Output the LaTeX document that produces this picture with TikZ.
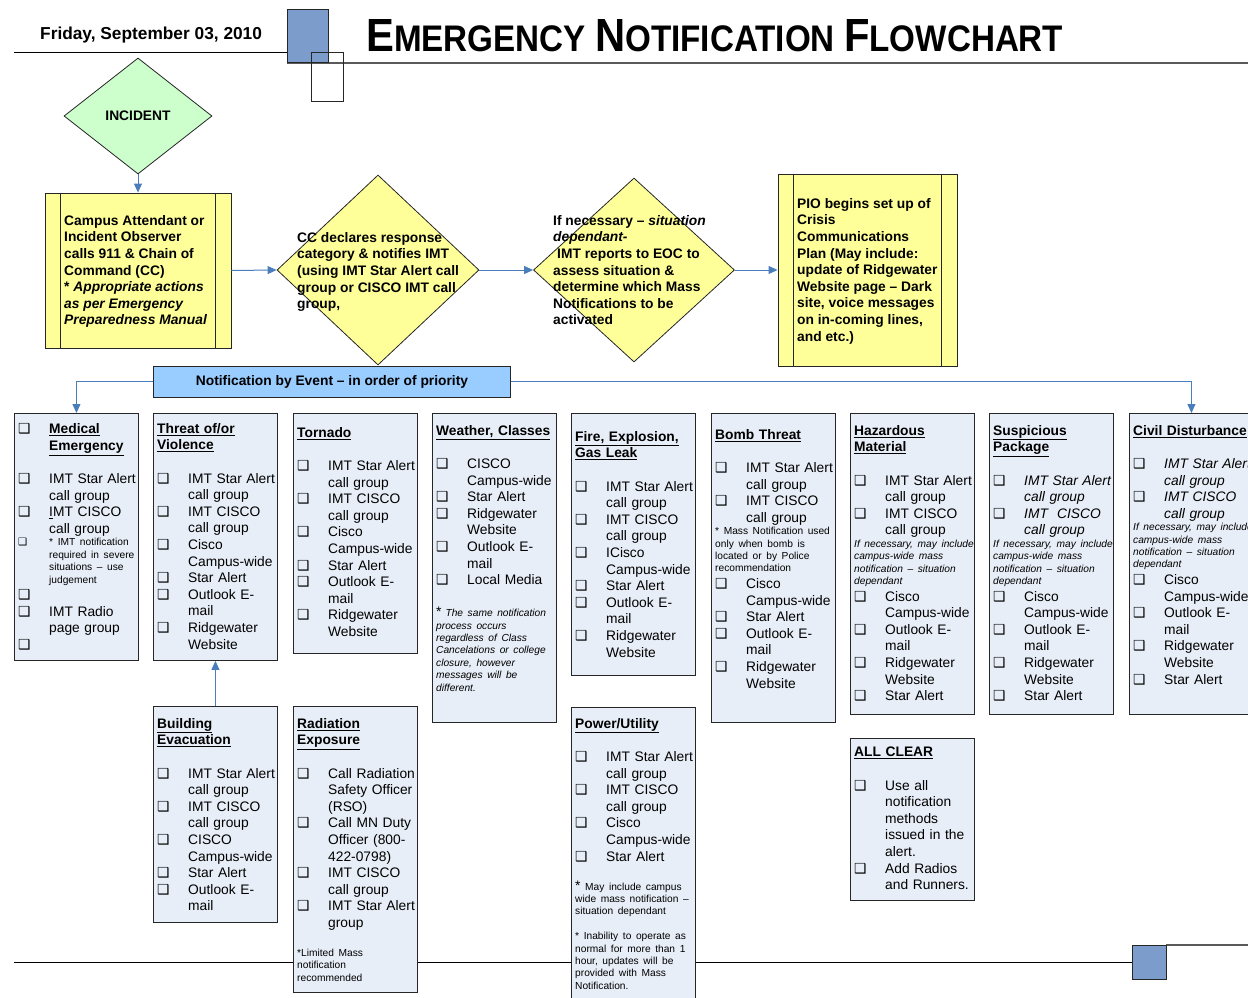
\documentclass[tikz,border=0pt]{standalone}
\usepackage{fontspec}
\usepackage{graphicx}
\setmainfont{Liberation Sans}
\newfontfamily\symfont{DejaVu Sans}
\usetikzlibrary{shapes.geometric,arrows.meta}

\definecolor{noteyellow}{HTML}{FFFF99}
\definecolor{incgreen}{HTML}{CCFFCC}
\definecolor{barblue}{HTML}{99CCFF}
\definecolor{evfill}{HTML}{E8EEF7}
\definecolor{linkblue}{HTML}{4A7EBB}
\definecolor{sqblue}{HTML}{7C9CCC}
\definecolor{rulegrey}{HTML}{5A5A5A}

\setlength\parindent{0pt}
\setlength\parskip{0pt}

% text sizes used in the event boxes
\newcommand\nm{\fontsize{13.8}{16.6}\selectfont}
\newcommand\sm{\fontsize{10.2}{12.4}\selectfont}
\newcommand\hd[1]{\underline{\textbf{#1}}}
\newcommand\cbx{\smash{\symfont ❑}}
% a check-box item; its further lines hang under the first one
\newcommand\itm[1]{\par\begingroup\let\\\newline
  \hangindent=31pt\hangafter=1\noindent\makebox[31pt][l]{\cbx}#1\par\endgroup}
\newcommand\blankline{\par\noindent\mbox{}\par}

\tikzset{
  evbox/.style={draw=black!85, line width=0.9pt, fill=evfill, rectangle,
    inner sep=0pt, anchor=north west},
  evtext/.style={anchor=north west, inner sep=0pt, text width=150pt,
    align=left, font=\nm},
  stepnote/.style={draw=black!85, line width=0.9pt, fill=noteyellow,
    rectangle, inner sep=0pt},
  decide/.style={draw=black!85, line width=0.8pt, fill=noteyellow,
    diamond, inner sep=0pt},
  steptext/.style={anchor=north west, inner sep=0pt, align=left,
    font=\nm\bfseries},
  link/.style={draw=linkblue, line width=1pt,
    -{Triangle[length=9pt,width=8pt]}},
}

% event box: name, x, y, width, height, text offset, contents
\newcommand\evbox[7]{%
  \node[evbox, minimum width=#4pt, minimum height=#5pt] (#1) at (#2,#3) {};
  \node[evtext] (#1-txt) at ([xshift=4pt,yshift=-#6pt]#1.north west) {#7};}

\begin{document}
\begin{tikzpicture}[x=1pt,y=-1pt]
\useasboundingbox (0,0) rectangle (1248,998);
\clip (0,0) rectangle (1248,998);
\fill[white] (0,0) rectangle (1248,998);

% ---- header ----
\draw[black, line width=1pt] (14,53) -- (287,53);
\draw[rulegrey, line width=1.6pt] (287,63) -- (1248,63);
\draw[black!85, line width=1pt, fill=sqblue] (287,10) rectangle (328,63);
\draw[black!85, line width=1pt] (311,53) rectangle (343,101);
\node[anchor=base west, inner sep=0pt, font=\bfseries\fontsize{17.3}{19}\selectfont]
  (date) at (40,40) {Friday, September 03, 2010};
\node[anchor=base west, inner sep=0pt] (title) at (366,52)
  {\resizebox{697pt}{32pt}{\bfseries
   \fontsize{44}{44}\selectfont E\fontsize{35}{35}\selectfont MERGENCY
   \fontsize{44}{44}\selectfont N\fontsize{35}{35}\selectfont OTIFICATION
   \fontsize{44}{44}\selectfont F\fontsize{35}{35}\selectfont LOWCHART}};

% ---- footer ----
\draw[black, line width=1pt] (14,962) -- (1132,962);
\draw[rulegrey, line width=1.6pt] (1166,945) -- (1248,945);
\draw[black!85, line width=1pt, fill=sqblue] (1132,945) rectangle (1166,979);

% ---- upper flow ----
\node[decide, fill=incgreen, minimum width=148pt, minimum height=116pt,
  font=\nm\bfseries] (inc) at (138,116) {INCIDENT};

\node[stepnote, minimum width=186pt, minimum height=155pt] (campus) at (138,270.5) {};
\draw[black!85, line width=0.9pt] ([xshift=16pt]campus.north west) -- ([xshift=16pt]campus.south west);
\draw[black!85, line width=0.9pt] ([xshift=-16pt]campus.north east) -- ([xshift=-16pt]campus.south east);
\node[steptext] (campus-txt) at (64,215) {Campus Attendant or\\Incident Observer\\calls 911 \& Chain of\\Command (CC)\\* \textit{Appropriate actions}\\\textit{as per Emergency}\\\textit{Preparedness Manual}};

\node[decide, minimum width=202pt, minimum height=190pt] (cc) at (378,270) {};
\node[steptext] (cc-txt) at (297,232) {CC declares response\\category \& notifies IMT\\(using IMT Star Alert call\\group or CISCO IMT call\\group,};

\node[decide, minimum width=201pt, minimum height=184pt] (eoc) at (634,270) {};
\node[steptext] (eoc-txt) at (553,215) {If necessary -- \textit{situation}\\\textit{dependant-}\\\hspace*{4pt}IMT reports to EOC to\\assess situation \&\\determine which Mass\\Notifications to be\\activated};

\node[stepnote, minimum width=179pt, minimum height=192pt] (pio) at (867.5,270) {};
\draw[black!85, line width=0.9pt] ([xshift=15.5pt]pio.north west) -- ([xshift=15.5pt]pio.south west);
\draw[black!85, line width=0.9pt] ([xshift=-16pt]pio.north east) -- ([xshift=-16pt]pio.south east);
\node[steptext] (pio-txt) at (797,198) {PIO begins set up of\\Crisis\\Communications\\Plan (May include:\\update of Ridgewater\\Website page -- Dark\\site, voice messages\\on in-coming lines,\\and etc.)};

\node[draw=black!85, line width=0.9pt, fill=barblue, minimum width=357pt,
  minimum height=31pt, inner sep=0pt, anchor=north west, font=\nm\bfseries]
  (bar) at (153,366) {Notification by Event -- in order of priority};

% ---- event boxes, first row ----
\evbox{med}{14}{413}{124}{247}{4}{%
  \itm{\hd{Medical}\\\hd{Emergency}}
  \blankline
  \itm{IMT Star Alert\\call group}
  \itm{\underline{I}MT CISCO\\call group}
  {\sm\itm{* IMT notification\\required in severe\\situations -- use\\judgement}}
  \itm{}
  \itm{IMT Radio\\page group}
  \itm{}}

\evbox{threat}{153}{413}{124}{247}{10}{%
  \noindent\hd{Threat of/or}\\\hd{Violence}
  \blankline
  \itm{IMT Star Alert\\call group}
  \itm{IMT CISCO\\call group}
  \itm{Cisco\\Campus-wide}
  \itm{Star Alert}
  \itm{Outlook E-\\mail}
  \itm{Ridgewater\\Website}}

\evbox{tornado}{293}{413}{124}{240}{14}{%
  \noindent\hd{Tornado}
  \blankline
  \itm{IMT Star Alert\\call group}
  \itm{IMT CISCO\\call group}
  \itm{Cisco\\Campus-wide}
  \itm{Star Alert}
  \itm{Outlook E-\\mail}
  \itm{Ridgewater\\Website}}

\evbox{weather}{432}{413}{124}{309}{12}{%
  \noindent\hd{Weather, Classes}
  \blankline
  \itm{CISCO\\Campus-wide}
  \itm{Star Alert}
  \itm{Ridgewater\\Website}
  \itm{Outlook E-\\mail}
  \itm{Local Media}
  \blankline\vspace{3pt}
  {\sm\noindent{\nm*}\hspace{4pt}\textit{The same notification}\\\textit{process occurs}\\\textit{regardless of Class}\\\textit{Cancelations or college}\\\textit{closure, however}\\\textit{messages will be}\\\textit{different.}\par}}

\evbox{fire}{571}{413}{124}{262}{18}{%
  \noindent\hd{Fire, Explosion,}\\\hd{Gas Leak}
  \blankline
  \itm{IMT Star Alert\\call group}
  \itm{IMT CISCO\\call group}
  \itm{ICisco\\Campus-wide}
  \itm{Star Alert}
  \itm{Outlook E-\\mail}
  \itm{Ridgewater\\Website}}

\evbox{bomb}{711}{413}{124}{309}{16}{%
  \noindent\hd{Bomb Threat}
  \blankline
  \itm{IMT Star Alert\\call group}
  \itm{IMT CISCO\\call group}
  {\sm\noindent * Mass Notification used\\only when bomb is\\located or by Police\\recommendation\par}
  \itm{Cisco\\Campus-wide}
  \itm{Star Alert}
  \itm{Outlook E-\\mail}
  \itm{Ridgewater\\Website}}

\evbox{hazmat}{850}{413}{124}{301}{12}{%
  \noindent\hd{Hazardous}\\\hd{Material}
  \blankline
  \itm{IMT Star Alert\\call group}
  \itm{IMT CISCO\\call group}
  {\sm\itshape\noindent If necessary, may include\\campus-wide mass\\notification -- situation\\dependant\par}
  \itm{Cisco\\Campus-wide}
  \itm{Outlook E-\\mail}
  \itm{Ridgewater\\Website}
  \itm{Star Alert}}

\evbox{package}{989}{413}{124}{301}{12}{%
  \noindent\hd{Suspicious}\\\hd{Package}
  \blankline
  \itm{\textit{IMT Star Alert}\\\textit{call group}}
  \itm{\textit{IMT\ \ CISCO}\\\textit{call group}}
  {\sm\itshape\noindent If necessary, may include\\campus-wide mass\\notification -- situation\\dependant\par}
  \itm{Cisco\\Campus-wide}
  \itm{Outlook E-\\mail}
  \itm{Ridgewater\\Website}
  \itm{Star Alert}}

\evbox{civil}{1129}{413}{124}{301}{12}{%
  \noindent\hd{Civil Disturbance}
  \blankline
  \itm{\textit{IMT Star Alert}\\\textit{call group}}
  \itm{\textit{IMT CISCO}\\\textit{call group}}
  {\sm\itshape\noindent If necessary, may include\\campus-wide mass\\notification -- situation\\dependant\par}
  \itm{Cisco\\Campus-wide}
  \itm{Outlook E-\\mail}
  \itm{Ridgewater\\Website}
  \itm{Star Alert}}

% ---- event boxes, second row ----
\evbox{evac}{153}{706}{124}{216}{12}{%
  \noindent\hd{Building}\\\hd{Evacuation}
  \blankline
  \itm{IMT Star Alert\\call group}
  \itm{IMT CISCO\\call group}
  \itm{CISCO\\Campus-wide}
  \itm{Star Alert}
  \itm{Outlook E-\\mail}}

\evbox{radiation}{293}{706}{124}{286}{12}{%
  \noindent\hd{Radiation}\\\hd{Exposure}
  \blankline
  \itm{Call Radiation\\Safety Officer\\(RSO)}
  \itm{Call MN Duty\\Officer (800-\\422-0798)}
  \itm{IMT CISCO\\call group}
  \itm{IMT Star Alert\\group}
  \blankline
  {\sm\noindent *Limited Mass\\notification\\recommended\par}}

\evbox{power}{571}{707}{124}{300}{11}{%
  \noindent\hd{Power/Utility}
  \blankline
  \itm{IMT Star Alert\\call group}
  \itm{IMT CISCO\\call group}
  \itm{Cisco\\Campus-wide}
  \itm{Star Alert}
  \blankline
  {\sm\noindent{\nm*} May include campus\\wide mass notification --\\situation dependant\par
   \noindent\mbox{}\par
   \noindent * Inability to operate as\\normal for more than 1\\hour, updates will be\\provided with Mass\\Notification.\par}}

\evbox{clear}{850}{738}{124}{162}{9}{%
  \noindent\hd{ALL CLEAR}
  \blankline
  \itm{Use all\\notification\\methods\\issued in the\\alert.}
  \itm{Add Radios\\and Runners.}}

% ---- connectors ----
\draw[link] (inc.south) -- (campus.north);
\draw[link] (campus.east) -- (cc.west);
\draw[link] (cc.east) -- (eoc.west);
\draw[link] (eoc.east) -- (pio.west);
\draw[link] (bar.west) -| (med.north);
\draw[link] (bar.east) -| (civil.north);
\draw[link] (evac.north) -- (threat.south);
\end{tikzpicture}
\end{document}
